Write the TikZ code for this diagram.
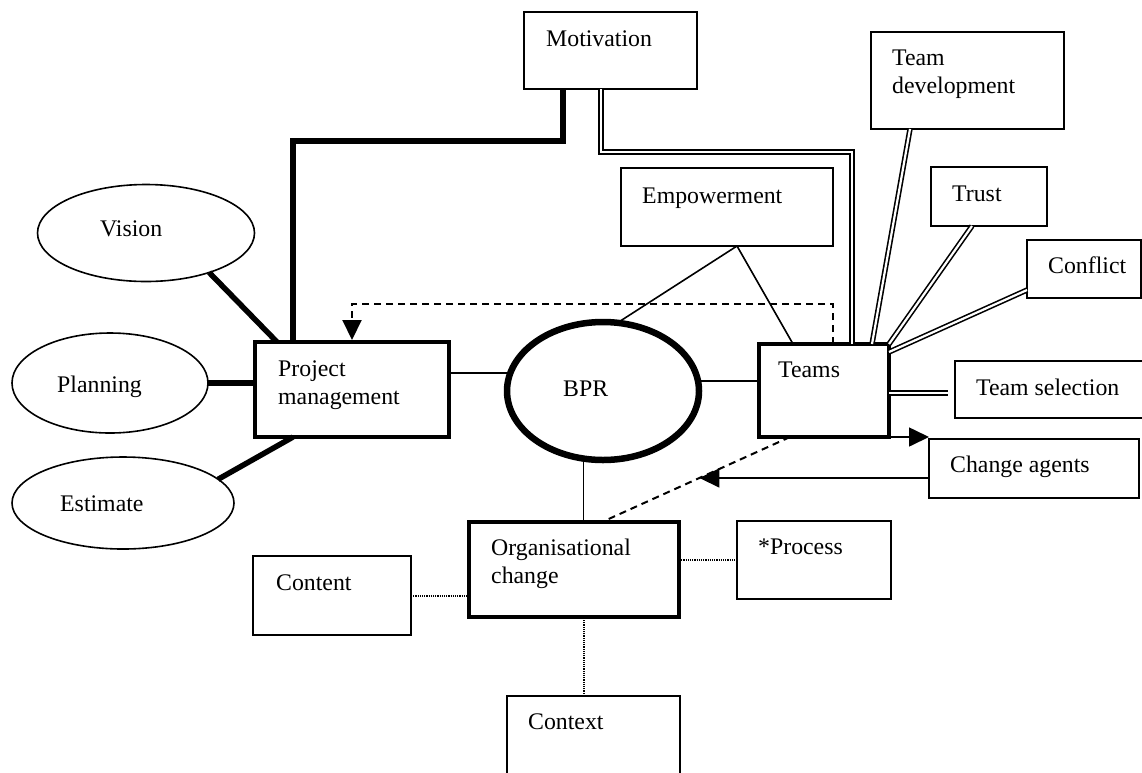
\documentclass[tikz,border=0pt]{standalone}
\usepackage{fontspec}
\setmainfont{Liberation Serif}
\usetikzlibrary{shapes.geometric,arrows.meta,calc}

\begin{document}
\begin{tikzpicture}[x=1pt,y=-1pt,
  box/.style={draw, line width=1.8pt, anchor=north west, inner sep=0pt, outer sep=0pt},
  heavybox/.style={box, line width=4.8pt},
  oval/.style={draw, ellipse, line width=1.6pt, inner sep=0pt, outer sep=0pt},
  lbl/.style={anchor=base west, inner sep=0pt, align=left, font=\fontsize{23.8}{28}\selectfont},
  link/.style={line width=1.6pt},
  heavy/.style={line width=5.5pt},
  dbl/.style={double, double distance=2.2pt, line width=1.6pt, line join=miter},
  dashline/.style={line width=2pt, dash pattern=on 7pt off 5pt},
  dotline/.style={line width=2pt, dash pattern=on 1.2pt off 1pt},
  headed/.style={-{Triangle[length=20pt,width=19pt]}}
]
\useasboundingbox (0,0) rectangle (1142,772);

% ---- central hub ----
\node[oval, line width=6.5pt, minimum width=192pt, minimum height=138pt] (bpr) at (603,391) {};
\node[lbl] (bpr-t) at (563,396) {BPR};

% ---- main boxes (multi-line labels sit on their last baseline) ----
\node[heavybox, minimum width=194pt, minimum height=95pt] (pm) at (255,342) {};
\node[lbl] (pm-t) at (278,404) {Project\\management};
\node[heavybox, minimum width=130pt, minimum height=93pt] (teams) at (759,344) {};
\node[lbl] (teams-t) at (778,377) {Teams};
\node[heavybox, minimum width=210pt, minimum height=95pt] (org) at (469,522) {};
\node[lbl] (org-t) at (491,583) {Organisational\\change};

% ---- project management inputs ----
\node[oval, minimum width=217pt, minimum height=97pt] (vis) at (146,233) {};
\node[lbl] (vis-t) at (100,236) {Vision};
\node[oval, minimum width=196pt, minimum height=100pt] (pla) at (110,383) {};
\node[lbl] (pla-t) at (57,392) {Planning};
\node[oval, minimum width=222pt, minimum height=92pt] (est) at (123,503) {};
\node[lbl] (est-t) at (60,511) {Estimate};

% ---- team factors ----
\node[box, minimum width=173pt, minimum height=77pt] (mot) at (524,12) {};
\node[lbl] (mot-t) at (546,46) {Motivation};
\node[box, minimum width=212pt, minimum height=78pt] (emp) at (621,168) {};
\node[lbl] (emp-t) at (642,203) {Empowerment};
\node[box, minimum width=193pt, minimum height=97pt] (tdev) at (871,32) {};
\node[lbl] (tdev-t) at (892,93) {Team\\development};
\node[box, minimum width=116pt, minimum height=59pt] (trust) at (931,167) {};
\node[lbl] (trust-t) at (952,201) {Trust};
\node[box, minimum width=114pt, minimum height=58pt] (conf) at (1027,240) {};
\node[lbl] (conf-t) at (1048,273) {Conflict};
\node[box, minimum width=195pt, minimum height=57pt] (tsel) at (955,361) {};
\node[lbl] (tsel-t) at (976,395) {Team selection};
\node[box, minimum width=210pt, minimum height=59pt] (chg) at (929,439) {};
\node[lbl] (chg-t) at (950,472) {Change agents};

% ---- change dimensions ----
\node[box, minimum width=154pt, minimum height=78pt] (proc) at (737,521) {};
\node[lbl] (proc-t) at (758,554) {*Process};
\node[box, minimum width=158pt, minimum height=79pt] (cont) at (253,556) {};
\node[lbl] (cont-t) at (276,590) {Content};
\node[box, minimum width=173pt, minimum height=94pt] (ctx) at (507,696) {};
\node[lbl] (ctx-t) at (528,729) {Context};

% ---- heavy links into project management ----
\draw[heavy] (vis.-32) -- ($(pm.north west)+(22,0)$);
\draw[heavy] (pla.east) -- (pla.east -| pm.west);
\draw[heavy] (est.14) -- ($(pm.south west)+(38,0)$);
\draw[heavy, line join=miter] ($(pm.north west)+(38,0)$) |- ($(mot.south west)+(39,52)$)
  -- ($(mot.south west)+(39,0)$);

% ---- plain links around the hub ----
\draw[link] (bpr.169 -| pm.east) -- (bpr.169);
\draw[link] (bpr.6) -- (bpr.6 -| teams.west);
\draw[link] (bpr.254) -- (bpr.254 |- org.north);
\draw[link] ($(emp.south west)+(116,0)$) -- (bpr.78);
\draw[link] ($(emp.south west)+(116,0)$) -- ($(teams.north west)+(34,0)$);

% ---- double links into teams ----
\draw[dbl] ($(mot.south west)+(77,0)$) |- ($(teams.north west)+(93,-192)$)
  -- ($(teams.north west)+(93,0)$);
\draw[dbl] ($(teams.north west)+(113,0)$) -- ($(tdev.south west)+(39,0)$);
\draw[dbl] (teams.north east) -- ($(trust.south west)+(41,0)$);
\draw[dbl] ($(teams.north east)+(0,8)$) -- ($(conf.south west)+(0,-8)$);
\coordinate (tsj) at ($(tsel.west)+(-7,3.5)$);
\draw[dbl] (tsj -| teams.east) -- (tsj);

% ---- dashed feedback and change agents ----
\draw[dashline, headed] ($(teams.north west)+(74,0)$) |- ($(pm.north west)+(97,-38)$)
  -- ($(pm.north west)+(97,-2)$);
\draw[dashline] ($(teams.south west)+(31,0)$) -- coordinate[pos=0.482] (dtip) ($(org.north west)+(133,0)$);
\draw[link, headed] (teams.south east) -- (teams.south east -| chg.west);
\draw[link, headed] (dtip -| chg.west) -- (dtip);

% ---- dotted links of organisational change ----
\draw[dotline] (cont.east) -- (cont.east -| org.west);
\draw[dotline] (proc.west -| org.east) -- (proc.west);
\coordinate (cx) at ($(ctx.north west)+(77,0)$);
\draw[dotline] (cx) -- (cx |- org.south);
\end{tikzpicture}
\end{document}
